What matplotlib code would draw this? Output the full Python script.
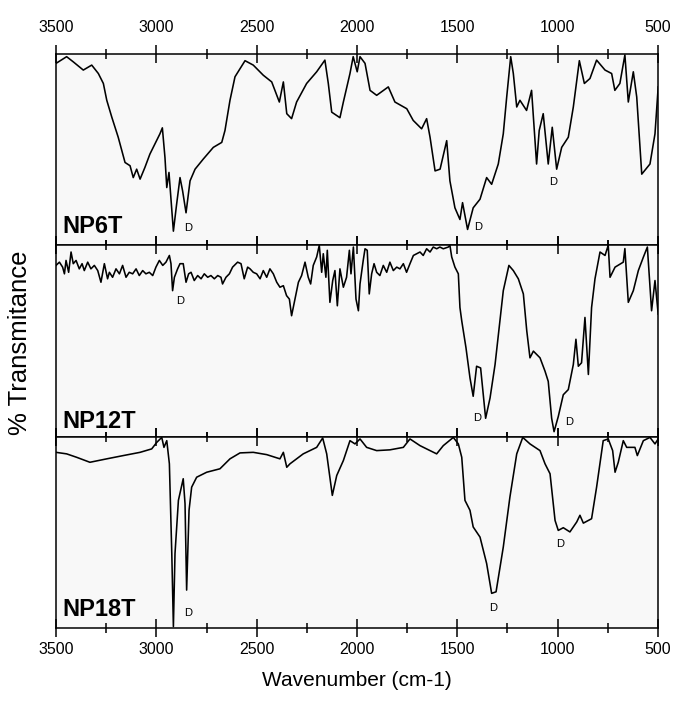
#!/usr/bin/env python3

"""FTIR spectra of NP6T, NP12T and NP18T, stacked."""

###############################################################################
# Library imports
###############################################################################

import matplotlib

matplotlib.use("Agg")

import matplotlib.pyplot as plt
from matplotlib.ticker import MultipleLocator

###############################################################################
# Data (wavenumber in cm-1, transmittance in arbitrary % per panel)
###############################################################################

np6t_wn = [
    3500, 3447, 3414, 3364, 3322, 3289, 3264, 3247, 3222, 3190, 3156, 3131,
    3115, 3098, 3081, 3057, 3032, 3007, 2982, 2970, 2957, 2948, 2937, 2915,
    2899, 2882, 2869, 2852, 2832, 2807, 2766, 2716, 2674, 2658, 2633, 2608,
    2558, 2517, 2467, 2425, 2387, 2367, 2350, 2326, 2301, 2251, 2201, 2160,
    2143, 2126, 2085, 2068, 2035, 2019, 1999, 1985, 1960, 1935, 1902, 1844,
    1811, 1752, 1720, 1678, 1653, 1636, 1611, 1586, 1553, 1537, 1512, 1487,
    1474, 1449, 1421, 1387, 1354, 1329, 1296, 1271, 1254, 1234, 1221, 1204,
    1188, 1155, 1130, 1105, 1092, 1072, 1047, 1027, 1005, 980, 947, 922,
    892, 867, 839, 806, 764, 731, 715, 690, 665, 648, 623, 606, 581, 540,
    515, 499,
]
np6t_t = [
    95.1, 98.6, 95.9, 91.6, 94.2, 89.8, 84.6, 75.8, 67.0, 56.5, 43.3, 41.6,
    35.4, 39.8, 34.6, 40.7, 47.7, 53.0, 58.3, 61.4, 45.9, 30.2, 38.1, 7.4,
    21.4, 35.4, 28.4, 17.0, 33.7, 39.8, 45.1, 51.2, 53.8, 60.0, 75.8, 88.1,
    96.5, 94.2, 88.9, 85.4, 74.9, 85.4, 68.8, 66.2, 74.9, 84.6, 90.7, 96.8,
    84.6, 69.6, 66.7, 74.9, 89.8, 98.6, 90.7, 98.6, 95.1, 81.0, 78.4, 82.8,
    74.9, 71.4, 65.3, 60.9, 66.2, 56.5, 38.9, 39.8, 54.7, 33.7, 19.6, 13.5,
    22.3, 8.3, 19.6, 24.1, 35.4, 31.9, 42.5, 58.3, 77.5, 98.6, 89.8, 72.3,
    75.8, 70.5, 81.0, 42.5, 60.0, 68.8, 42.5, 61.7, 39.8, 51.2, 56.5, 72.3,
    96.5, 84.6, 87.2, 96.8, 91.6, 89.8, 81.0, 84.6, 99.5, 74.9, 90.7, 77.5,
    37.2, 42.5, 58.3, 82.8,
]

np12t_wn = [
    3500, 3483, 3467, 3458, 3450, 3437, 3425, 3414, 3400, 3384, 3370, 3359,
    3342, 3326, 3309, 3292, 3276, 3259, 3243, 3234, 3218, 3201, 3184, 3168,
    3151, 3135, 3118, 3101, 3085, 3068, 3052, 3035, 3018, 3002, 2985, 2968,
    2952, 2935, 2927, 2919, 2910, 2894, 2882, 2866, 2852, 2839, 2827, 2811,
    2794, 2777, 2761, 2744, 2728, 2711, 2694, 2678, 2670, 2653, 2636, 2620,
    2595, 2578, 2562, 2545,
    2533, 2517, 2500, 2483, 2467, 2450, 2434, 2417, 2400, 2384, 2367, 2351,
    2337, 2326, 2309, 2292, 2276, 2259, 2243, 2231, 2218, 2201, 2188, 2176,
    2168, 2155, 2148, 2135, 2121, 2110, 2098, 2085, 2068, 2052, 2038, 2030,
    2018, 2005, 1993, 1985, 1969, 1960, 1949, 1939, 1927, 1915, 1902, 1886,
    1869, 1852, 1836, 1819, 1802, 1786, 1769, 1753, 1736, 1719, 1703, 1686,
    1670, 1653, 1636, 1620, 1603, 1587, 1570, 1545, 1537, 1528, 1512, 1495,
    1487,
    1478, 1457, 1437, 1421, 1404, 1384, 1359, 1337, 1312, 1288, 1271, 1243,
    1221, 1196, 1171, 1154, 1138, 1121, 1088, 1063, 1047, 1030, 1018, 997,
    972, 947, 922, 909, 897, 881, 864, 847, 831, 814, 789, 764, 748, 739,
    714, 673, 665, 648, 623, 598, 573, 553, 532, 515, 499,
]
np12t_t = [
    89.5, 91.2, 88.6, 85.1, 92.1, 85.9, 96.5, 90.4, 92.1, 87.7, 90.4, 86.8,
    91.2, 87.7, 89.5, 86.8, 80.7, 90.4, 82.5, 85.9, 83.3, 87.7, 85.1, 89.5,
    83.3, 85.9, 85.1, 87.7, 84.2, 86.8, 85.1, 85.9, 84.2, 88.6, 92.1, 89.5,
    91.2, 94.7, 90.4, 76.3, 83.3, 87.7, 90.4, 90.4, 80.7, 85.1, 85.9, 81.6,
    84.2, 82.5, 85.1, 83.3, 84.2, 82.5, 84.2, 83.3, 79.8, 83.3, 85.1, 88.6,
    91.2, 90.4, 82.5, 88.6,
    87.7, 85.9, 85.1, 82.5, 86.8, 83.3, 87.7, 85.1, 80.7, 78.1, 78.9, 73.7,
    71.9, 63.2, 71.9, 80.7, 84.2, 91.2, 83.3, 79.8, 89.5, 93.9, 100.0, 85.9,
    95.6, 83.3, 97.4, 70.2, 81.6, 86.8, 68.4, 87.7, 78.1, 83.3, 97.4, 85.1,
    99.1, 71.9, 65.8, 79.8, 92.1, 98.2, 97.4, 74.6, 85.1, 90.4, 85.9, 84.2,
    89.5, 85.9, 91.2, 86.8, 88.6, 87.7, 90.4, 85.9, 90.4, 94.7, 95.6, 96.5,
    94.7, 98.2, 96.5, 99.1, 98.2, 99.1, 98.2, 99.1, 100.0, 93.9, 88.6, 85.1,
    67.5,
    60.5, 46.5, 30.7, 21.1, 36.8, 35.9, 9.6, 20.2, 37.7, 60.5, 76.3, 89.5,
    86.8, 82.5, 74.6, 55.3, 41.2, 44.7, 41.2, 34.2, 28.9, 9.6, 2.6, 10.5,
    21.9, 24.6, 37.7, 50.9, 36.8, 38.6, 62.3, 32.5, 67.5, 82.5, 96.5, 94.7,
    100.0, 83.3, 88.6, 91.2, 98.3, 70.2, 76.3, 86.8, 93.8, 99.1, 65.8, 81.6,
    64.0,
]

np18t_wn = [
    3500, 3447, 3397, 3331, 3247, 3165, 3081, 3023, 2998, 2973, 2962, 2948,
    2935, 2923, 2915, 2907, 2890, 2866, 2857, 2849, 2837, 2824, 2799, 2749,
    2683, 2633, 2583, 2517, 2450, 2384, 2367, 2350, 2334, 2268, 2201, 2171,
    2151, 2123, 2101, 2068, 2035, 2010, 1985, 1952, 1902, 1836, 1769, 1736,
    1686, 1636, 1603, 1570, 1520, 1495, 1478, 1462, 1437, 1421, 1387, 1354,
    1329, 1307, 1271, 1238, 1204, 1174, 1138, 1088, 1063, 1038, 1013, 997,
    972, 939, 905, 889, 872, 831, 806, 773, 748, 726, 714, 698, 673, 656,
    615, 603, 573, 540, 515, 499,
]
np18t_t = [
    91.8, 91.0, 89.2, 86.6, 88.4, 90.1, 91.8, 93.6, 97.0, 99.6, 94.4, 97.9,
    85.8, 38.9, 0.7, 38.9, 66.7, 78.0, 64.9, 19.8, 61.5, 73.6, 78.8, 81.4,
    83.2, 88.4, 91.5, 91.8, 90.6, 88.4, 91.8, 84.0, 85.8, 91.0, 94.4, 99.3,
    91.0, 69.3, 79.7, 87.5, 97.9, 96.2, 98.8, 94.4, 92.7, 93.1, 94.4, 98.8,
    95.3, 92.7, 91.0, 95.3, 99.6, 96.2, 89.2, 66.7, 61.5, 52.8, 47.5, 33.7,
    18.1, 18.9, 42.3, 68.4, 91.0, 99.6, 96.2, 92.7, 85.8, 80.6, 56.2, 51.0,
    52.4, 50.2, 55.4, 58.9, 54.8, 57.1, 73.6, 97.9, 98.8, 92.7, 81.4, 86.6,
    97.9, 94.4, 94.4, 90.1, 97.9, 99.6, 96.2, 98.8,
]

sample_names = ["NP6T", "NP12T", "NP18T"]
name_heights = [0.065, 0.044, 0.062]

# "D" band markers: (wavenumber, transmittance) per panel
d_marks = [
    [(2842, 8.9), (1397, 9.5), (1023, 33.2)],
    [(2882, 71.0), (1399, 9.6), (944, 7.4)],
    [(2844, 8.0), (1321, 10.3), (989, 44.1)],
]

x_ticks = [3500, 3000, 2500, 2000, 1500, 1000, 500]

###############################################################################
# Plot
###############################################################################


def main():
    plt.rcParams["font.family"] = ["Liberation Sans", "DejaVu Sans"]

    fig, axes = plt.subplots(3, 1, sharex=True, figsize=(6.78, 7.04), dpi=100)
    fig.subplots_adjust(left=0.0826, right=0.9705, top=0.9233, bottom=0.108,
                        hspace=0)

    spectra = [(np6t_wn, np6t_t), (np12t_wn, np12t_t), (np18t_wn, np18t_t)]

    for i, ax in enumerate(axes):
        wn, t = spectra[i]
        ax.set_facecolor("#f8f8f8")
        ax.plot(wn, t, color="black", lw=1.15)
        ax.set_xlim(3500, 500)
        ax.set_ylim(0, 100)
        ax.set_yticks([])

        for s in ax.spines.values():
            s.set_linewidth(1.1)

        ax.text(0.01, name_heights[i], sample_names[i], transform=ax.transAxes,
                fontsize=17, fontweight="bold", ha="left", va="baseline")
        for w, y in d_marks[i]:
            ax.text(w, y, "D", fontsize=8, ha="center", va="center")

        ax.xaxis.set_major_locator(MultipleLocator(500))
        ax.xaxis.set_minor_locator(MultipleLocator(250))
        ax.tick_params(axis="x", which="major", direction="inout", length=13,
                       width=1.1, top=True, bottom=True, labelsize=11.5,
                       labelbottom=False, labeltop=False)
        ax.tick_params(axis="x", which="minor", direction="inout", length=7,
                       width=1.1, top=True, bottom=True)

    axes[0].tick_params(axis="x", which="major", labeltop=True, pad=7)
    axes[-1].tick_params(axis="x", which="major", labelbottom=True, pad=3.5)
    axes[-1].set_xticks(x_ticks)
    axes[-1].set_xlabel("Wavenumber (cm-1)", fontsize=15, labelpad=10)

    fig.text(0.03, 0.513, "% Transmitance", rotation=90, fontsize=18.5,
             ha="center", va="center")

    fig.savefig("out.png", dpi=100, facecolor="white")


if __name__ == "__main__":
    main()
